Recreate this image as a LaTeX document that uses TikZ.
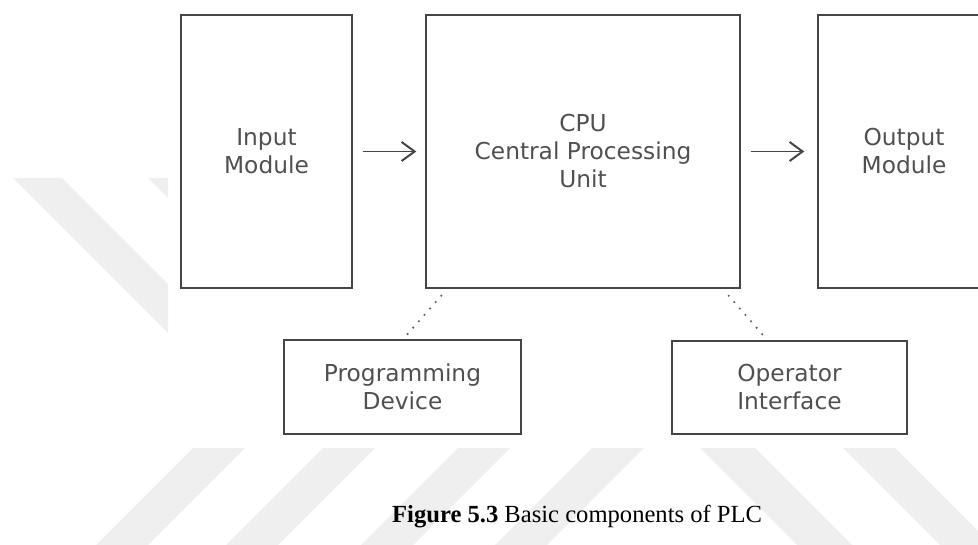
\documentclass[tikz,border=0pt]{standalone}
\usepackage{fontspec}
\setmainfont{Liberation Serif}
\newfontfamily\diagfont{DejaVu Sans}
\usetikzlibrary{arrows.meta,calc}
\definecolor{boxline}{HTML}{454545}
\definecolor{boxtext}{HTML}{505050}
\definecolor{wm}{HTML}{EFEFEF}
\definecolor{dotcol}{HTML}{606060}
\begin{document}
\begin{tikzpicture}[x=1pt,y=-1pt,
  blk/.style={draw=boxline, line width=1.4pt, align=center, inner sep=0pt,
    text=boxtext, font=\diagfont\fontsize{23.3}{28}\selectfont},
  flow/.style={draw=boxline, line width=1.6pt,
    -{Straight Barb[length=13pt,width=19pt,line width=2pt]}},
  dotline/.style={draw=dotcol, line width=2.3pt, line cap=round,
    dash pattern=on 0pt off 8.5pt},
  wmark/.style={fill=wm, draw=none}]
\useasboundingbox (0,0) rectangle (978,545);
\clip (0,0) rectangle (978,545);
% watermark stripes
\fill[wmark] (13,178) -- (62,178) -- (168,284) -- (168,333) -- cycle;
\fill[wmark] (148,178) -- (168,178) -- (168,198) -- cycle;
\fill[wmark] (193,448) -- (245,448) -- (148,545) -- (96,545) -- cycle;
\fill[wmark] (323,448) -- (375,448) -- (278,545) -- (226,545) -- cycle;
\fill[wmark] (458,448) -- (510,448) -- (413,545) -- (361,545) -- cycle;
\fill[wmark] (592,448) -- (644,448) -- (547,545) -- (495,545) -- cycle;
\fill[wmark] (700,448) -- (755,448) -- (852,545) -- (797,545) -- cycle;
\fill[wmark] (843,448) -- (895,448) -- (992,545) -- (940,545) -- cycle;
% blocks
\node[blk, minimum width=171pt, minimum height=273pt] (inp) at (266.5,151.5) {Input\\Module};
\node[blk, minimum width=314pt, minimum height=273pt] (cpu) at (583,151.5) {CPU\\Central Processing\\Unit};
\node[blk, minimum width=172pt, minimum height=273pt] (out) at (904,151.5) {Output\\Module};
\node[blk, minimum width=237pt, minimum height=94pt] (prog) at (402.5,387) {Programming\\Device};
\node[blk, minimum width=235pt, minimum height=93pt] (oper) at (789.5,387.5) {Operator\\Interface};
% connectors
\draw[flow, shorten <=10pt, shorten >=9pt] (inp.east) -- (cpu.west);
\draw[flow, shorten <=10pt, shorten >=13pt] (cpu.east) -- (out.west);
\draw[dotline] ($(cpu.south west)+(16,7)$) -- ($(prog.north)+(4,-4)$);
\draw[dotline] ($(cpu.south east)+(-12,7)$) -- ($(oper.north west)+(91,-6)$);
% caption
\node[anchor=base west, inner sep=0pt, font=\fontsize{24.6}{28}\selectfont] (cap) at (392,522)
  {\textbf{Figure 5.3} Basic components of PLC};
\end{tikzpicture}
\end{document}
